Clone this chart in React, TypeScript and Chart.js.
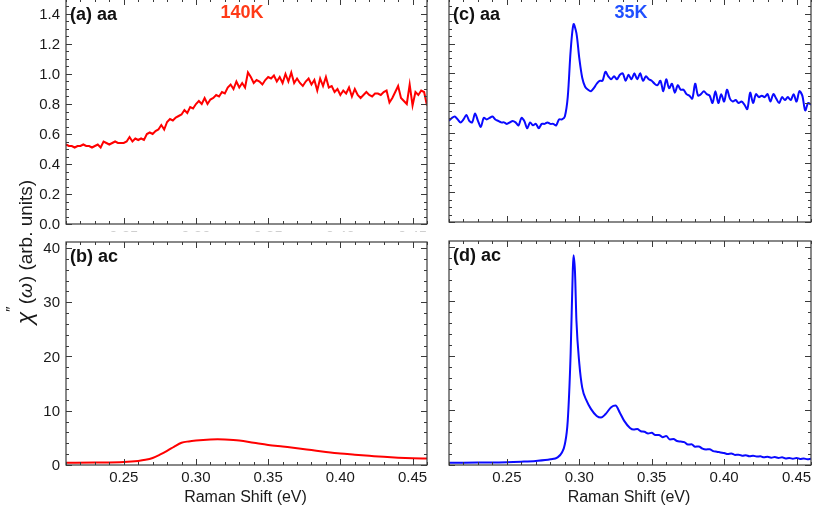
import { useEffect, useRef } from "react";
import { Chart, registerables } from "chart.js";

Chart.register(...registerables);

// ---- data -------------------------------------------------------------
// Noisy aa spectra sampled every 2 meV from 0.210 to 0.460 eV
const AA_START = 0.21;
const AA_STEP = 0.002;

const aa140K = [
  0.53, 0.52, 0.52, 0.51, 0.52, 0.52, 0.53, 0.52, 0.52, 0.51,
  0.52, 0.53, 0.51, 0.55, 0.54, 0.53, 0.54, 0.55, 0.54, 0.54,
  0.54, 0.55, 0.58, 0.55, 0.57, 0.56, 0.57, 0.56, 0.6, 0.61,
  0.6, 0.62, 0.63, 0.66, 0.63, 0.68, 0.7, 0.69, 0.71, 0.72,
  0.73, 0.76, 0.74, 0.78, 0.77, 0.8, 0.82, 0.8, 0.84, 0.8,
  0.83, 0.84, 0.86, 0.85, 0.88, 0.87, 0.91, 0.93, 0.9, 0.95,
  0.91, 0.94, 0.91, 1.01, 0.98, 0.94, 0.96, 0.95, 0.93, 0.96,
  0.98, 0.97, 0.99, 0.95, 0.98, 0.94, 1.0, 0.95, 1.01, 0.94,
  0.97, 0.94, 0.92, 0.95, 0.97, 0.93, 0.96, 0.89, 0.97, 0.92,
  0.98, 0.91, 0.92, 0.88, 0.9, 0.86, 0.89, 0.87, 0.91, 0.85,
  0.9, 0.86, 0.84, 0.86, 0.88, 0.86, 0.85, 0.87, 0.87, 0.86,
  0.88, 0.89, 0.81, 0.84, 0.88, 0.92, 0.84, 0.82, 0.8, 0.93,
  0.79, 0.88, 0.86, 0.89, 0.88, 0.79,
];

const aa35K = [
  0.68, 0.7, 0.71, 0.69, 0.67, 0.69, 0.72, 0.68, 0.67, 0.73,
  0.68, 0.64, 0.7, 0.69, 0.7, 0.71, 0.69, 0.68, 0.67, 0.67,
  0.66, 0.67, 0.68, 0.67, 0.65, 0.7, 0.68, 0.63, 0.67, 0.65,
  0.66, 0.63, 0.66, 0.66, 0.67, 0.66, 0.66, 0.65, 0.69, 0.69,
  0.71, 0.84, 1.15, 1.33, 1.27, 1.1, 0.97, 0.91, 0.89, 0.88,
  0.9, 0.93, 0.95, 0.95, 1.01, 0.98, 0.96, 0.98, 0.96, 0.99,
  1.0, 0.95, 0.99, 0.96, 1.0, 0.96, 1.0, 0.95, 0.98, 0.96,
  0.95, 0.93, 0.92, 0.95, 0.88, 0.96, 0.9, 0.93, 0.87, 0.92,
  0.89, 0.89, 0.86, 0.85, 0.83, 0.93, 0.85, 0.86, 0.88, 0.86,
  0.85, 0.8, 0.88, 0.8, 0.86, 0.81, 0.89, 0.83, 0.81, 0.82,
  0.8, 0.81, 0.79, 0.76, 0.87, 0.8, 0.86, 0.84, 0.85, 0.84,
  0.86, 0.81, 0.86, 0.83, 0.8, 0.84, 0.82, 0.84, 0.82, 0.86,
  0.81, 0.88, 0.85, 0.75, 0.8, 0.79,
];

// Smooth ac spectra
const ac140KShift = [
  0.21, 0.23, 0.25, 0.26, 0.265, 0.27, 0.275, 0.28, 0.285, 0.29, 0.295, 0.3,
  0.31, 0.315, 0.32, 0.33, 0.34, 0.35, 0.36, 0.37, 0.38, 0.39, 0.4, 0.41,
  0.42, 0.43, 0.44, 0.45, 0.46,
];
const ac140K = [
  0.4, 0.45, 0.55, 0.75, 0.95, 1.3, 1.9, 2.6, 3.4, 4.1, 4.35, 4.5,
  4.7, 4.75, 4.7, 4.5, 4.1, 3.7, 3.4, 3.1, 2.75, 2.4, 2.1, 1.9,
  1.7, 1.5, 1.35, 1.25, 1.2,
];

const ac35KShift = [
  0.21, 0.23, 0.25, 0.26, 0.27, 0.28, 0.285, 0.288, 0.29, 0.292, 0.294,
  0.2955, 0.296, 0.297, 0.298, 0.3, 0.302, 0.305, 0.308, 0.312, 0.315,
  0.318, 0.322, 0.325, 0.328, 0.331,
  0.335, 0.3375, 0.34, 0.3425, 0.345, 0.3475, 0.35, 0.3525, 0.355, 0.3575,
  0.36, 0.3625, 0.365, 0.3675, 0.37, 0.3725, 0.375, 0.3775, 0.38, 0.3825,
  0.385, 0.3875, 0.39, 0.3925, 0.395, 0.3975, 0.4, 0.4025, 0.405, 0.4075,
  0.41, 0.4125, 0.415, 0.4175, 0.42, 0.4225, 0.425, 0.4275, 0.43, 0.4325,
  0.435, 0.4375, 0.44, 0.4425, 0.445, 0.4475, 0.45, 0.4525, 0.455, 0.4575,
  0.46,
];
const ac35K = [
  0.4, 0.45, 0.5, 0.6, 0.75, 1.05, 1.4, 2.3, 3.8, 8.1, 20.4,
  35.8, 38.5, 35.5, 26.5, 18.6, 14.2, 11.8, 10.3, 9.0, 8.7,
  9.3, 10.6, 10.9, 9.6, 8.1,
  6.8, 6.5, 6.6, 6.2, 6.1, 5.8, 5.9, 5.5, 5.5, 5.1,
  5.3, 4.7, 4.75, 4.4, 4.3, 4.2, 3.75, 3.8, 3.35, 3.4,
  3.0, 2.85, 2.9, 2.55, 2.45, 2.3, 2.2, 2.0, 2.1, 1.85,
  1.9, 1.7, 1.8, 1.6, 1.7, 1.55, 1.6, 1.4, 1.5, 1.35,
  1.45, 1.3, 1.4, 1.2, 1.3, 1.15, 1.3, 1.1, 1.2, 1.05,
  1.15,
];

const xTickLabels = ["0.25", "0.30", "0.35", "0.40", "0.45"];
const aaTickLabels = ["0.0", "0.2", "0.4", "0.6", "0.8", "1.0", "1.2", "1.4"];
const acTickLabels = ["0", "10", "20", "30", "40"];

// ---- layout -----------------------------------------------------------
const PAGE_W = 816;
const PAGE_H = 514;
const SHIFT = 2; // canvases start slightly above the page top

const FONT = '"Liberation Sans", Arial, Helvetica, sans-serif';
const RED = "#ff0000";
const BLUE = "#0a0aff";

type Box = { left: number; top: number; right: number; bottom: number };

type PanelSpec = {
  box: Box;
  kind: "aa" | "ac";
  xs: number[];
  ys: number[];
  color: string;
  smooth: "none" | "light" | "monotone";
  tag: string;
  temp?: { text: string; color: string; x: number };
  yLabels: boolean;
  xLabels: "full" | "faint" | "none";
  yTitle?: boolean;
};

const gridXs = (n: number) => Array.from({ length: n }, (_, i) => +(AA_START + i * AA_STEP).toFixed(4));

const panels: PanelSpec[] = [
  {
    box: { left: 66, top: -1, right: 427, bottom: 224 },
    kind: "aa", xs: gridXs(aa140K.length), ys: aa140K, color: RED, smooth: "none",
    tag: "(a) aa", temp: { text: "140K", color: "#ff3a17", x: 242 },
    yLabels: true, xLabels: "faint", yTitle: true,
  },
  {
    box: { left: 66, top: 242, right: 427, bottom: 465 },
    kind: "ac", xs: ac140KShift, ys: ac140K, color: RED, smooth: "monotone",
    tag: "(b) ac", yLabels: true, xLabels: "full",
  },
  {
    box: { left: 449, top: -1, right: 811, bottom: 222 },
    kind: "aa", xs: gridXs(aa35K.length), ys: aa35K, color: BLUE, smooth: "light",
    tag: "(c) aa", temp: { text: "35K", color: "#2050ff", x: 631 },
    yLabels: false, xLabels: "none",
  },
  {
    box: { left: 449, top: 241, right: 811, bottom: 465 },
    kind: "ac", xs: ac35KShift, ys: ac35K, color: BLUE, smooth: "monotone",
    tag: "(d) ac", yLabels: false, xLabels: "full",
  },
];

// ---- frame, ticks and labels drawn around each plot -------------------
const framePlugin = (spec: PanelSpec) => ({
  id: "frameTicks",
  afterDraw(chart: any) {
    const ctx: CanvasRenderingContext2D = chart.ctx;
    const { left, right, top, bottom } = chart.chartArea;
    const xs = chart.scales.x;
    const ys = chart.scales.y;
    ctx.save();

    // frame
    ctx.strokeStyle = "#3a3a3a";
    ctx.lineWidth = 1.2;
    ctx.strokeRect(left, top, right - left, bottom - top);

    // x ticks, inward on top and bottom
    ctx.lineWidth = 1;
    ctx.beginPath();
    for (let k = 21; k <= 46; k++) {
      const px = Math.round(xs.getPixelForValue(k / 100)) + 0.5;
      const len = k % 5 === 0 ? 6 : 3;
      ctx.moveTo(px, bottom);
      ctx.lineTo(px, bottom - len);
      ctx.moveTo(px, top);
      ctx.lineTo(px, top + len);
    }
    // y ticks, inward on left and right
    const yTicks: { v: number; major: boolean }[] = [];
    if (spec.kind === "aa") {
      for (let k = 0; k <= 30; k++) yTicks.push({ v: k * 0.05, major: k % 4 === 0 });
    } else {
      for (let k = 0; k <= 20; k++) yTicks.push({ v: k * 2, major: k % 5 === 0 });
    }
    for (const t of yTicks) {
      if (t.v > ys.max) continue;
      const py = Math.round(ys.getPixelForValue(t.v)) + 0.5;
      const len = t.major ? 6 : 3;
      ctx.moveTo(left, py);
      ctx.lineTo(left + len, py);
      ctx.moveTo(right, py);
      ctx.lineTo(right - len, py);
    }
    ctx.stroke();

    // y tick labels
    ctx.fillStyle = "#1a1a1a";
    ctx.font = `15px ${FONT}`;
    if (spec.yLabels) {
      ctx.textAlign = "right";
      ctx.textBaseline = "middle";
      const labels = spec.kind === "aa" ? aaTickLabels : acTickLabels;
      labels.forEach((lab) => {
        const py = ys.getPixelForValue(parseFloat(lab));
        ctx.fillText(lab, left - 6, py + 1);
      });
    }

    // x tick labels
    if (spec.xLabels !== "none") {
      ctx.save();
      ctx.textAlign = "center";
      ctx.textBaseline = "top";
      if (spec.xLabels === "faint") {
        ctx.beginPath();
        ctx.rect(left - 20, bottom + 2, right - left + 40, 6);
        ctx.clip();
        ctx.fillStyle = "#cfcfcf";
      }
      xTickLabels.forEach((lab) => {
        const px = xs.getPixelForValue(parseFloat(lab));
        ctx.fillText(lab, px, bottom + 5);
      });
      ctx.restore();
      if (spec.xLabels === "full") {
        ctx.textAlign = "center";
        ctx.textBaseline = "middle";
        ctx.font = `16px ${FONT}`;
        ctx.fillStyle = "#1a1a1a";
        ctx.fillText("Raman Shift (eV)", (left + right) / 2 - 1, 498 + SHIFT);
      }
    }

    // panel tag and temperature
    ctx.textAlign = "left";
    ctx.textBaseline = "middle";
    ctx.font = `bold 18px ${FONT}`;
    ctx.fillStyle = "#111";
    const tagY = spec.kind === "aa" ? 15 + SHIFT : top + 15;
    ctx.fillText(spec.tag, left + 4, tagY);
    if (spec.temp) {
      ctx.textAlign = "center";
      ctx.fillStyle = spec.temp.color;
      ctx.fillText(spec.temp.text, spec.temp.x, 13 + SHIFT);
    }

    // shared y-axis title, reading bottom to top
    if (spec.yTitle) {
      ctx.save();
      ctx.translate(32, 252 + SHIFT);
      ctx.rotate(-Math.PI / 2);
      ctx.fillStyle = "#1a1a1a";
      ctx.textAlign = "left";
      ctx.textBaseline = "alphabetic";
      const pieces: { t: string; font: string; dy: number; gap: number }[] = [
        { t: "\u03C7", font: `italic 23px ${FONT}`, dy: 0, gap: 0 },
        { t: "\u2033", font: `15px ${FONT}`, dy: -16, gap: 2 },
        { t: "(", font: `19px ${FONT}`, dy: 0, gap: 0 },
        { t: "\u03C9", font: `italic 19px ${FONT}`, dy: 0, gap: 1 },
        { t: ")", font: `19px ${FONT}`, dy: 0, gap: 0 },
        { t: " (arb. units)", font: `19px ${FONT}`, dy: 0, gap: 0 },
      ];
      let total = 0;
      for (const p of pieces) {
        ctx.font = p.font;
        total += ctx.measureText(p.t).width + p.gap;
      }
      let x = -total / 2;
      for (const p of pieces) {
        ctx.font = p.font;
        ctx.fillText(p.t, x, p.dy);
        x += ctx.measureText(p.t).width + p.gap;
      }
      ctx.restore();
    }

    ctx.restore();
  },
});

function Panel({ spec }: { spec: PanelSpec }) {
  const ref = useRef<HTMLCanvasElement | null>(null);

  useEffect(() => {
    const canvas = ref.current;
    if (!canvas) return;
    const { box } = spec;
    const points = spec.xs.map((x, i) => ({ x, y: spec.ys[i] }));
    const chart = new Chart(canvas, {
      type: "line",
      data: {
        datasets: [
          {
            data: points,
            borderColor: spec.color,
            borderWidth: 2,
            pointRadius: 0,
            fill: false,
            tension: spec.smooth === "light" ? 0.3 : 0,
            cubicInterpolationMode: spec.smooth === "monotone" ? "monotone" : "default",
          },
        ],
      },
      options: {
        animation: false,
        responsive: false,
        maintainAspectRatio: false,
        events: [],
        layout: {
          padding: {
            left: box.left,
            right: PAGE_W - box.right,
            top: box.top + SHIFT,
            bottom: PAGE_H - box.bottom,
          },
        },
        scales: {
          x: { type: "linear", min: 0.21, max: 0.46, display: false },
          y: spec.kind === "aa"
            ? { type: "linear", min: 0, max: 1.5, display: false }
            : { type: "linear", min: 0, max: 41.1, display: false },
        },
        plugins: { legend: { display: false }, tooltip: { enabled: false } },
      },
      plugins: [framePlugin(spec)],
    } as any);
    return () => chart.destroy();
  }, [spec]);

  return (
    <canvas
      ref={ref}
      width={PAGE_W}
      height={PAGE_H + SHIFT}
      style={{ position: "absolute", left: 0, top: -SHIFT, width: PAGE_W, height: PAGE_H + SHIFT }}
    />
  );
}

export default function App() {
  useEffect(() => {
    document.body.style.margin = "0";
    document.body.style.background = "#ffffff";
  }, []);
  return (
    <div style={{ position: "relative", width: PAGE_W, height: PAGE_H, overflow: "hidden", background: "#fff" }}>
      {panels.map((p, i) => (
        <Panel key={i} spec={p} />
      ))}
    </div>
  );
}
